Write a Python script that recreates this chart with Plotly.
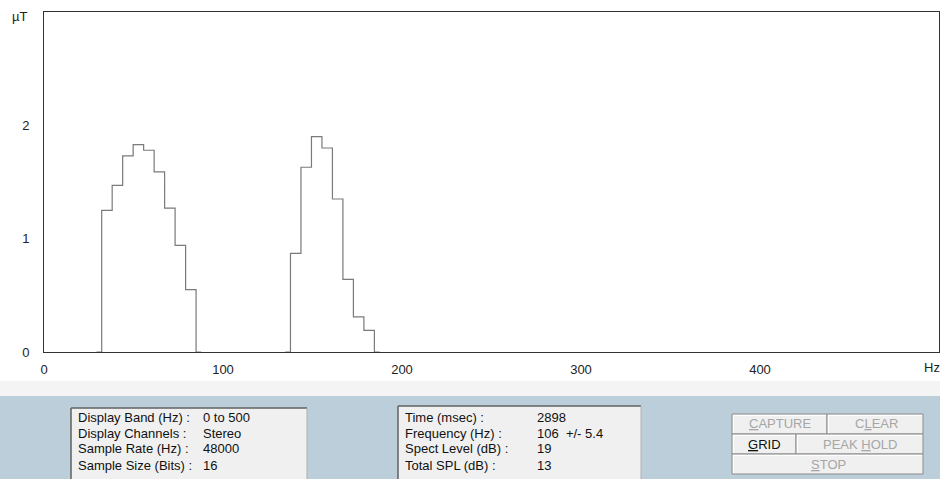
import plotly.graph_objects as go

# ---------------- data ----------------
bin_width_hz = 48000 / 8192          # FFT bin spacing
hump1_bins = list(range(5, 16))
hump1_level_ut = [0.0, 1.25, 1.47, 1.73, 1.83, 1.78, 1.59, 1.27, 0.94, 0.55, 0.0]
hump2_bins = list(range(23, 33))
hump2_level_ut = [0.0, 0.87, 1.63, 1.90, 1.80, 1.35, 0.64, 0.31, 0.19, 0.0]

x_ticks = [0, 100, 200, 300, 400]
y_ticks = [0, 1, 2]

info_left_labels = ["Display Band (Hz) :", "Display Channels :", "Sample Rate (Hz) :", "Sample Size (Bits) :"]
info_left_values = ["0 to 500", "Stereo", "48000", "16"]
info_right_labels = ["Time (msec) :", "Frequency (Hz) :", "Spect Level (dB) :", "Total SPL (dB) :"]
info_right_values = ["2898", "106 \u00a0+/- 5.4", "19", "13"]

# ---------------- layout helpers ----------------
W, H = 940, 479
L, R, T, B = 44, 939, 12, 352


def px(x):
    return (x - L) / (R - L)


def py(y):
    return (B - y) / (B - T)


FONT = "Arial, 'Liberation Sans', sans-serif"

fig = go.Figure()
for bins, levels in [(hump1_bins, hump1_level_ut), (hump2_bins, hump2_level_ut)]:
    fig.add_trace(go.Scatter(
        x=[k * bin_width_hz for k in bins], y=levels, mode="lines",
        line=dict(shape="hvh", color="#7a7a7a", width=1.2),
        hoverinfo="skip", showlegend=False,
    ))

shapes = []
annotations = []


def rect(x0, y0, x1, y1, fill, line=None, width=1):
    shapes.append(dict(type="rect", xref="paper", yref="paper",
                       x0=px(x0), x1=px(x1), y0=py(y0), y1=py(y1),
                       fillcolor=fill, layer="below",
                       line=dict(color=line or fill, width=width if line else 0)))


def hline(x0, x1, y, color, width=1):
    shapes.append(dict(type="line", xref="paper", yref="paper",
                       x0=px(x0), x1=px(x1), y0=py(y), y1=py(y),
                       line=dict(color=color, width=width)))


def vline(x, y0, y1, color, width=1):
    shapes.append(dict(type="line", xref="paper", yref="paper",
                       x0=px(x), x1=px(x), y0=py(y0), y1=py(y1),
                       line=dict(color=color, width=width)))


def text(x, y, s, color="#111111", size=13, xanchor="left"):
    if xanchor == "left":
        x -= 2
    annotations.append(dict(xref="paper", yref="paper", x=px(x), y=py(y),
                            text=s, showarrow=False, xanchor=xanchor, yanchor="middle",
                            font=dict(family=FONT, size=size, color=color)))


# bottom strip and panel
rect(0, 381, W, 396, "#f4f4f4")
rect(0, 396, W, H + 2, "#bdcedb")

# info boxes
rect(71, 408, 307, H + 2, "#f0f0f0")
hline(71, 307, 408, "#606060", 1.5)
vline(71, 408, H + 2, "#606060", 1.5)
vline(307, 408, H + 2, "#b0b0b0", 1)
rect(398, 406, 641, H + 2, "#f0f0f0")
hline(398, 641, 406, "#606060", 1.5)
vline(398, 406, H + 2, "#606060", 1.5)
vline(641, 406, H + 2, "#b0b0b0", 1)

row_y = [417, 433, 449, 465]
for yy, lab, val in zip(row_y, info_left_labels, info_left_values):
    text(78, yy, lab)
    text(203, yy, val)
for yy, lab, val in zip(row_y, info_right_labels, info_right_values):
    text(405, yy, lab)
    text(537, yy, val)

# buttons
btns = [(732, 414, 827, 434), (827, 414, 923, 434),
        (732, 434, 796, 454), (796, 434, 923, 454),
        (732, 454, 923, 474)]
for x0, y0, x1, y1 in btns:
    rect(x0, y0, x1, y1, "#f0f0f0", "#8c8c8c", 1)
    hline(x0 + 1, x1 - 1, y0 + 1.5, "#ffffff", 1)
    vline(x0 + 1.5, y0 + 1, y1 - 1, "#ffffff", 1)

U = "<span style='text-decoration:underline'>{}</span>"
GRAY = "#a6a6a6"
text(780, 424, U.format("C") + "APTURE", GRAY, 13, "center")
text(876, 424, "C" + U.format("L") + "EAR", GRAY, 13, "center")
text(764, 444, U.format("G") + "RID", "#111111", 13, "center")
text(860, 444, "PEAK " + U.format("H") + "OLD", GRAY, 13, "center")
text(828, 464, U.format("S") + "TOP", GRAY, 13, "center")

# axis unit labels
text(19, 17, "µT", "#222222", 13, "center")
text(932, 367, "Hz", "#222222", 13, "center")

fig.update_layout(
    width=W, height=H,
    margin=dict(l=L, r=W - R, t=T, b=H - B, pad=0),
    paper_bgcolor="white", plot_bgcolor="white",
    font=dict(family=FONT, size=13, color="#222222"),
    shapes=shapes, annotations=annotations,
    xaxis=dict(range=[0, 500], tickvals=x_ticks, ticktext=[str(v) for v in x_ticks],
               showgrid=False, zeroline=False, showline=True, linecolor="#333333",
               linewidth=1, mirror=True, ticks="", ticklabelstandoff=5,
               layer="above traces"),
    yaxis=dict(range=[0, 3], tickvals=y_ticks, ticktext=[str(v) for v in y_ticks],
               showgrid=False, zeroline=False, showline=True, linecolor="#333333",
               linewidth=1, mirror=True, ticks="", ticklabelstandoff=11,
               layer="above traces"),
)

fig.write_html("out.html", config={"displayModeBar": False},
               post_script="document.body.style.margin='0';document.body.style.overflow='hidden';")
